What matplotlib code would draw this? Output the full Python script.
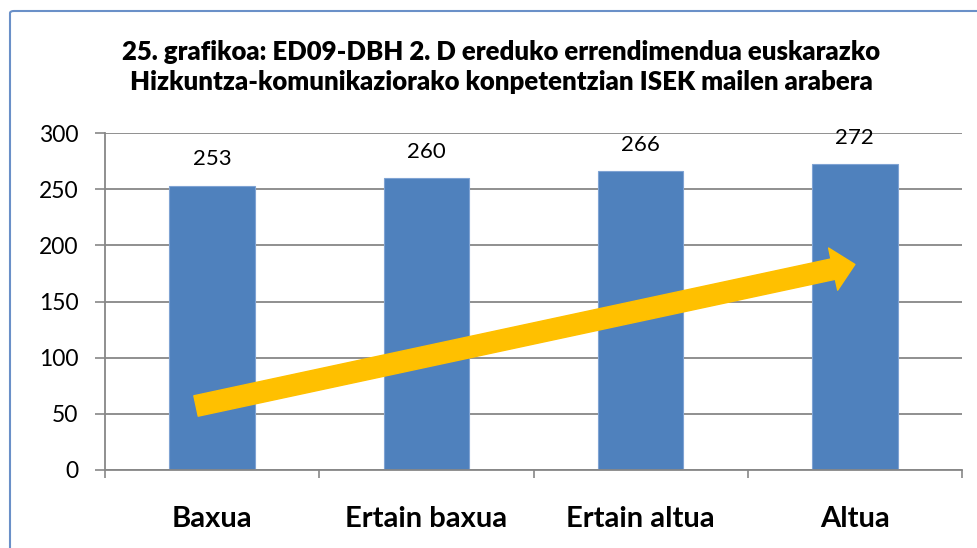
import matplotlib
matplotlib.use('Agg')
import matplotlib.pyplot as plt
from matplotlib.patches import FancyBboxPatch

# datuak
categories = ['Baxua', 'Ertain baxua', 'Ertain altua', 'Altua']
values = [253, 260, 266, 272]
y_ticks = [0, 50, 100, 150, 200, 250, 300]
title = ('25. grafikoa: ED09-DBH 2. D ereduko errendimendua euskarazko\n'
         'Hizkuntza-komunikaziorako konpetentzian ISEK mailen arabera')

BAR_COLOR = '#4F81BD'
ARROW_COLOR = '#FFC000'
GRID_COLOR = '#878787'

plt.rcParams['font.family'] = ['Lato', 'DejaVu Sans']

W, H = 978, 548
fig = plt.figure(figsize=(W / 100, H / 100), dpi=100)
ax = fig.add_axes([105 / W, (H - 470) / H, (962 - 105) / W, (470 - 133) / H])

x = list(range(len(categories)))
ax.bar(x, values, width=0.4, color=BAR_COLOR, edgecolor='#7FA3D3', linewidth=0.8, zorder=2)

for xi, v in zip(x, values):
    ax.annotate(str(v), (xi, v), xytext=(0, 19), textcoords='offset points',
                ha='center', va='center', fontsize=16, color='black')

ax.set_xlim(-0.5, len(categories) - 0.5)
ax.set_ylim(0, 300)
ax.set_yticks(y_ticks)
ax.tick_params(axis='y', labelsize=16.5, length=7, width=1.2, color=GRID_COLOR, pad=12)
ax.set_xticks(x)
ax.set_xticklabels(categories, fontsize=21, fontweight='bold')
ax.set_xticks([i + 0.5 for i in range(-1, len(categories))], minor=True)
ax.tick_params(axis='x', which='major', length=0, pad=26)
ax.tick_params(axis='x', which='minor', length=6, width=1.2, color=GRID_COLOR)

ax.grid(axis='y', color=GRID_COLOR, linewidth=1.3, zorder=0)
ax.set_axisbelow(True)
for side in ['top', 'right']:
    ax.spines[side].set_visible(False)
for side in ['left', 'bottom']:
    ax.spines[side].set_color(GRID_COLOR)
    ax.spines[side].set_linewidth(1.3)

# gorako gezia
ax.annotate('', xy=(3.0, 183), xytext=(-0.075, 57), annotation_clip=False,
            arrowprops=dict(arrowstyle='simple,tail_width=15,head_width=31,head_length=16',
                            mutation_scale=1, color=ARROW_COLOR, shrinkA=0, shrinkB=0),
            zorder=3)

fig.text(501 / W, 1 - 67 / H, title, ha='center', va='center', fontsize=18.5,
         fontweight='heavy', linespacing=1.3)

# grafikoaren ertza
border = FancyBboxPatch((10 / W, -0.1), 1.1, 1.1 - 11 / H,
                        boxstyle='round,pad=0,rounding_size=0.004',
                        transform=fig.transFigure, fill=False,
                        edgecolor='#6A90C8', linewidth=1.5)
fig.patches.append(border)

fig.savefig('out.png', dpi=100)
